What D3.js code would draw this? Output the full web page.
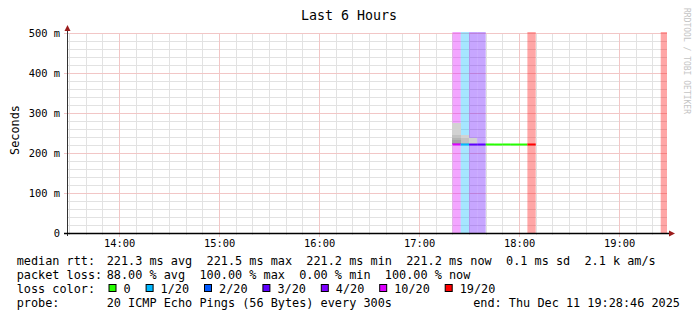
<!DOCTYPE html>
<html>
<head>
<meta charset="utf-8">
<script src="https://cdn.jsdelivr.net/npm/d3@7"></script>
<style>
body{margin:0;background:#fff}
svg text{font-family:"DejaVu Sans Mono",monospace;white-space:pre}
</style>
</head>
<body>
<svg width="697" height="321"></svg>
<script>
// 5 minute steps that have data (start time of each step)
var stepStarts = ["17:20","17:25","17:30","17:35","17:40","17:45","17:50","17:55","18:00","18:05","19:25"];
var lossCounts = [10, 1, 3, 3, 0, 0, 0, 0, 0, 19, 20];
var medians = [221.5, 221.3, 221.2, 221.2, 221.3, 221.2, 221.3, 221.2, 221.2, 221.3, null];
// received ping rtts (ms), sorted, for the smoke
var pingSets = [
  [221.2,221.3,221.4,221.6,222.0,224.0,232.0,238.0,245.0,274.0],
  [221.1,221.1,221.2,221.2,221.2,221.2,221.3,221.3,221.3,221.3,221.4,221.4,221.5,221.6,221.8,222.0,224.0,237.5,245.0],
  [221.0,221.1,221.1,221.2,221.2,221.2,221.2,221.2,221.3,221.3,221.3,221.4,221.5,221.6,222.0,223.0,237.0],
  [221.0,221.1,221.1,221.2,221.2,221.2,221.2,221.2,221.3,221.3,221.3,221.3,221.4,221.4,221.5,221.8,223.0],
  [221.1,221.2,221.2,221.2,221.3,221.3,221.3,221.3,221.3,221.3,221.3,221.4,221.4,221.4,221.5,221.5,221.6,221.8,222.0,222.4],
  [221.0,221.1,221.1,221.2,221.2,221.2,221.2,221.2,221.2,221.2,221.3,221.3,221.3,221.3,221.4,221.4,221.5,221.6,221.9,222.3],
  [221.1,221.2,221.2,221.2,221.3,221.3,221.3,221.3,221.3,221.3,221.3,221.3,221.4,221.4,221.4,221.5,221.5,221.7,221.9,222.2],
  [221.0,221.1,221.1,221.1,221.2,221.2,221.2,221.2,221.2,221.2,221.2,221.3,221.3,221.3,221.4,221.4,221.5,221.6,221.8,222.1],
  [221.0,221.1,221.1,221.2,221.2,221.2,221.2,221.2,221.2,221.2,221.3,221.3,221.3,221.3,221.3,221.4,221.5,221.6,221.8,222.2],
  [221.3],
  []
];
var startTime = "2025-12-11 13:28:46", endTime = "2025-12-11 19:28:46";
var yTicks = [0, 100, 200, 300, 400, 500];

var lossLabels = ["0","1/20","2/20","3/20","4/20","10/20","19/20"];
var lossThresholds = [0, 1, 2, 3, 4, 10, 19];
var lossColors = ["#26ff00","#00b8ff","#0059ff","#5e00ff","#7e00ff","#dd00ff","#ff0000"];

var statRows = [
  ["median rtt:", "221.3 ms avg  221.5 ms max  221.2 ms min  221.2 ms now  0.1 ms sd  2.1 k am/s"],
  ["packet loss:", "88.00 % avg  100.00 % max  0.00 % min  100.00 % now"]
];
var probeText = "20 ICMP Echo Pings (56 Bytes) every 300s";
var endText = "end: Thu Dec 11 19:28:46 2025";

var svg = d3.select("svg");
var parseFull = d3.timeParse("%Y-%m-%d %H:%M:%S"),
    parseStep = d3.timeParse("%Y-%m-%d %H:%M");
var t0 = parseFull(startTime), t1 = parseFull(endTime);

var pLeft = 67, pRight = 667, pTop = 33, pBottom = 233;
var x = d3.scaleTime().domain([t0, t1]).range([pLeft, pRight]);
var y = d3.scaleLinear().domain([0, 500]).range([pBottom, pTop]);

function lossColor(n){
  var c = lossColors[0];
  lossThresholds.forEach(function(t, i){ if (n >= t) c = lossColors[i]; });
  return c;
}

var steps = stepStarts.map(function(s, i){
  var a = parseStep("2025-12-11 " + s);
  var b = d3.timeMinute.offset(a, 5);
  return {a: a, b: b > t1 ? t1 : b, loss: lossCounts[i], med: medians[i], pings: pingSets[i]};
});

// title
svg.append("text").attr("x", 349).attr("y", 20).attr("text-anchor", "middle")
  .style("font-size", "13.3px").text("Last 6 Hours");

// watermark
svg.append("text").attr("transform", "translate(684,8) rotate(90)")
  .style("font-size", "8px").attr("fill", "#c4c4c4").text("RRDTOOL / TOBI OETIKER");

// y label
svg.append("text").attr("transform", "translate(19,130) rotate(-90)").attr("text-anchor", "middle")
  .style("font-size", "11.85px").text("Seconds");

var grid = svg.append("g").attr("shape-rendering", "crispEdges");
// minor horizontal
d3.range(0, 501, 20).filter(function(v){ return v % 100 != 0; }).forEach(function(v){
  grid.append("line").attr("x1", pLeft).attr("x2", pRight).attr("y1", y(v) + 0.5).attr("y2", y(v) + 0.5)
    .attr("stroke", "#e2e2e2");
});
// minor vertical
x.ticks(d3.timeMinute.every(10)).forEach(function(t){
  if (t.getMinutes() == 0) return;
  grid.append("line").attr("x1", Math.round(x(t)) + 0.5).attr("x2", Math.round(x(t)) + 0.5)
    .attr("y1", pTop).attr("y2", pBottom + 2).attr("stroke", "#e2e2e2");
});
// major
yTicks.forEach(function(v){
  grid.append("line").attr("x1", pLeft - 3).attr("x2", pRight).attr("y1", y(v) + 0.5).attr("y2", y(v) + 0.5)
    .attr("stroke", "#f2c6c6");
});
x.ticks(d3.timeHour.every(1)).forEach(function(t){
  grid.append("line").attr("x1", Math.round(x(t)) + 0.5).attr("x2", Math.round(x(t)) + 0.5)
    .attr("y1", pTop).attr("y2", pBottom + 4).attr("stroke", "#f2c6c6");
});

// loss bands
svg.append("g").selectAll("rect").data(steps.filter(function(d){ return d.loss > 0; }))
  .enter().append("rect")
  .attr("x", function(d){ return x(d.a); })
  .attr("width", function(d){ return x(d.b) - x(d.a); })
  .attr("y", pTop - 1).attr("height", pBottom - pTop + 1)
  .attr("fill", function(d){ return lossColor(d.loss); })
  .attr("fill-opacity", 0.35);

// smoke
var shade = d3.scaleLinear().domain([0, 4]).range([210, 150]).clamp(true);
var smoke = svg.append("g").attr("shape-rendering", "crispEdges");
steps.forEach(function(d){
  var p = d.pings, n = p.length;
  for (var k = 0; k < Math.floor(n / 2); k++) {
    var g = Math.round(shade(k));
    smoke.append("rect")
      .attr("x", x(d.a)).attr("width", x(d.b) - x(d.a))
      .attr("y", y(p[n - 1 - k])).attr("height", Math.max(0, y(p[k]) - y(p[n - 1 - k])))
      .attr("fill", d3.rgb(g, g, g));
  }
});

// median line
svg.append("g").selectAll("line").data(steps.filter(function(d){ return d.med != null; }))
  .enter().append("line")
  .attr("x1", function(d){ return x(d.a); })
  .attr("x2", function(d){ return x(d.b); })
  .attr("y1", function(d){ return y(d.med); })
  .attr("y2", function(d){ return y(d.med); })
  .attr("stroke", function(d){ return lossColor(d.loss); })
  .attr("stroke-width", 2);

// axes
var xAxis = svg.append("g").attr("transform", "translate(0," + pBottom + ")")
  .call(d3.axisBottom(x).ticks(d3.timeHour.every(1)).tickFormat(d3.timeFormat("%H:%M")).tickSize(0).tickPadding(7));
var yAxis = svg.append("g").attr("transform", "translate(" + pLeft + ",0)")
  .call(d3.axisLeft(y).tickValues(yTicks).tickFormat(function(d){ return d == 0 ? "0" : d + " m"; }).tickSize(0).tickPadding(7));
[xAxis, yAxis].forEach(function(a){
  a.select(".domain").remove();
  a.attr("font-family", null).attr("font-size", null);
  a.selectAll("text").style("font-size", "10.4px").attr("fill", "#000");
});

svg.append("line").attr("x1", pLeft + 0.5).attr("x2", pLeft + 0.5).attr("y1", pBottom + 3).attr("y2", 29)
  .attr("stroke", "#333").attr("shape-rendering", "crispEdges");
svg.append("line").attr("x1", pLeft - 3).attr("x2", 670).attr("y1", pBottom + 0.5).attr("y2", pBottom + 0.5)
  .attr("stroke", "#000").attr("stroke-width", 1.5);
svg.append("path").attr("d", "M67.5,25L64.5,31L70.5,31Z").attr("fill", "#9b1b1b");
svg.append("path").attr("d", "M675,233.5L669,230.5L669,236.5Z").attr("fill", "#9b1b1b");

// legend
var lx = 16.7, vx = 106.7, fs = "11.85px";
statRows.forEach(function(r, i){
  svg.append("text").attr("x", lx).attr("y", 265 + i * 14).style("font-size", fs).text(r[0]);
  svg.append("text").attr("x", vx).attr("y", 265 + i * 14).style("font-size", fs).text(r[1]);
});
svg.append("text").attr("x", lx).attr("y", 293).style("font-size", fs).text("loss color:");
var cx = 108.5;
lossLabels.forEach(function(l, i){
  svg.append("rect").attr("x", cx + 0.5).attr("y", 284.5).attr("width", 7).attr("height", 7)
    .attr("fill", lossColors[i]).attr("stroke", "#000");
  svg.append("text").attr("x", cx + 15).attr("y", 293).style("font-size", fs).text(l);
  cx += 30 + l.length * 7.1;
});
svg.append("text").attr("x", lx).attr("y", 307).style("font-size", fs).text("probe:");
svg.append("text").attr("x", vx).attr("y", 307).style("font-size", fs).text(probeText);
svg.append("text").attr("x", 680).attr("y", 307).attr("text-anchor", "end").style("font-size", fs).text(endText);
</script>
</body>
</html>
